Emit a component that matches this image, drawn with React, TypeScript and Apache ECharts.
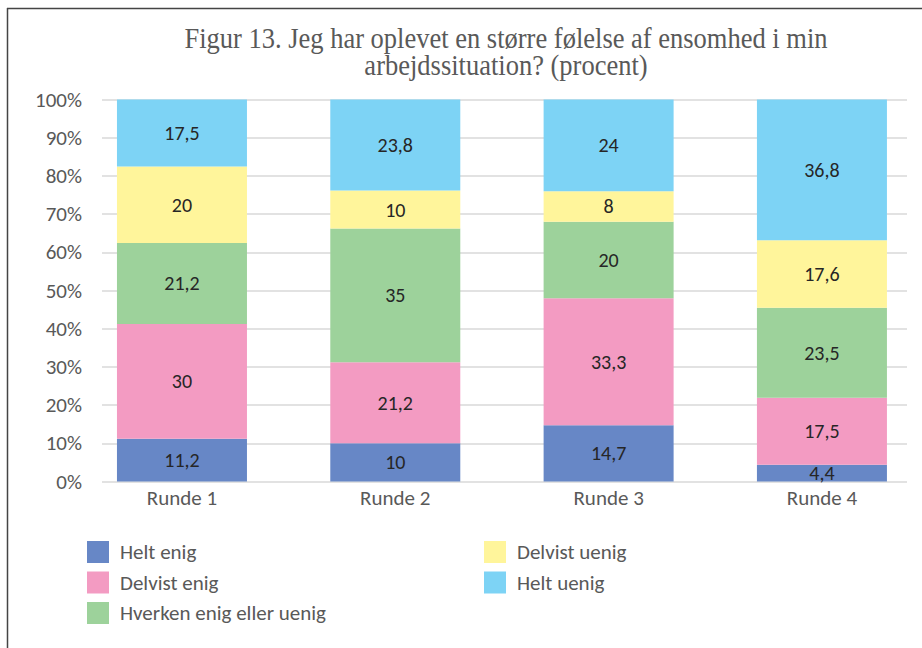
import React, { useEffect, useRef } from "react";
import * as echarts from "echarts";

const categories = ["Runde 1", "Runde 2", "Runde 3", "Runde 4"];
const seriesNames = ["Helt enig", "Delvist enig", "Hverken enig eller uenig", "Delvist uenig", "Helt uenig"];
const heltEnig = [11.2, 10, 14.7, 4.4];
const delvistEnig = [30, 21.2, 33.3, 17.5];
const hverken = [21.2, 35, 20, 23.5];
const delvistUenig = [20, 10, 8, 17.6];
const heltUenig = [17.5, 23.8, 24, 36.8];
const colors = ["#6787C6", "#F39BC2", "#9DD29B", "#FFF59B", "#7DD3F5"];
const yTicks = [0, 10, 20, 30, 40, 50, 60, 70, 80, 90, 100];

const FONT = "Carlito, Lato, 'Noto Sans', sans-serif";
const W = 950;

export default function App() {
  const ref = useRef<HTMLDivElement>(null);
  useEffect(() => {
    if (!ref.current) return;
    const chart = echarts.init(ref.current, undefined, { renderer: "svg" });
    const all = [heltEnig, delvistEnig, hverken, delvistUenig, heltUenig];
    const sums = categories.map((_, i) => all.reduce((s, a) => s + a[i], 0));
    const series = all.map((arr, k) => ({
      name: seriesNames[k],
      type: "bar",
      stack: "total",
      xAxisIndex: 1,
      yAxisIndex: 1,
      barWidth: 130,
      itemStyle: { color: colors[k] },
      label: {
        show: true,
        position: "inside",
        color: "#262626",
        fontSize: 20,
        fontFamily: FONT,
        formatter: (p: any) => String(arr[p.dataIndex]).replace(".", ","),
      },
      data: arr.map((v, i) => (v / sums[i]) * 100),
    }));
    const legendCommon = {
      orient: "vertical",
      itemWidth: 22,
      itemHeight: 22,
      itemGap: 8.5,
      icon: "rect",
      textStyle: { color: "#595959", fontSize: 21, fontFamily: FONT, padding: [0, 0, 0, 6] },
    };
    chart.setOption({
      animation: false,
      backgroundColor: "#ffffff",
      graphic: [
        {
          type: "text",
          x: 506,
          y: 24,
          scaleY: 1.08,
          style: {
            text: "Figur 13. Jeg har oplevet en større følelse af ensomhed i min\narbejdssituation? (procent)",
            textAlign: "center",
            textVerticalAlign: "top",
            font: "26.5px 'Liberation Serif', serif",
            fill: "#595959",
            lineHeight: 25.5,
          },
        },
        { type: "line", shape: { x1: 7, y1: 8.5, x2: W, y2: 8.5 }, style: { stroke: "#444", lineWidth: 1.5 } },
        { type: "line", shape: { x1: 7.5, y1: 8, x2: 7.5, y2: 648 }, style: { stroke: "#444", lineWidth: 1.5 } },
      ],
      legend: [
        { ...legendCommon, left: 82, top: 536, data: seriesNames.slice(0, 3) },
        { ...legendCommon, left: 479, top: 536, data: seriesNames.slice(3) },
      ],
      grid: [
        { left: 102, width: 805, top: 99.5, bottom: 166.5 },
        { left: 75.3, width: 853.3, top: 99.5, bottom: 166.5 },
      ],
      xAxis: [
        { type: "category", gridIndex: 0, data: categories, show: false },
        {
          type: "category",
          gridIndex: 1,
          data: categories,
          axisLine: { show: false },
          axisTick: { show: false },
          axisLabel: { color: "#595959", fontSize: 21, fontFamily: FONT, margin: 6 },
        },
      ],
      yAxis: [
        {
          type: "value",
          gridIndex: 0,
          min: 0,
          max: 100,
          interval: 10,
          axisLine: { show: false },
          axisTick: { show: false },
          axisLabel: {
            color: "#595959",
            fontSize: 21,
            fontFamily: FONT,
            margin: 20,
            formatter: (v: number) => (yTicks.includes(v) ? v + "%" : ""),
          },
          splitLine: { show: true, lineStyle: { color: "#D9D9D9", width: 1.5 } },
        },
        { type: "value", gridIndex: 1, min: 0, max: 100, show: false, splitLine: { show: false } },
      ],
      series,
    });
    return () => chart.dispose();
  }, []);
  return <div ref={ref} style={{ position: "fixed", left: 0, top: 0, width: W, height: 648 }} />;
}
